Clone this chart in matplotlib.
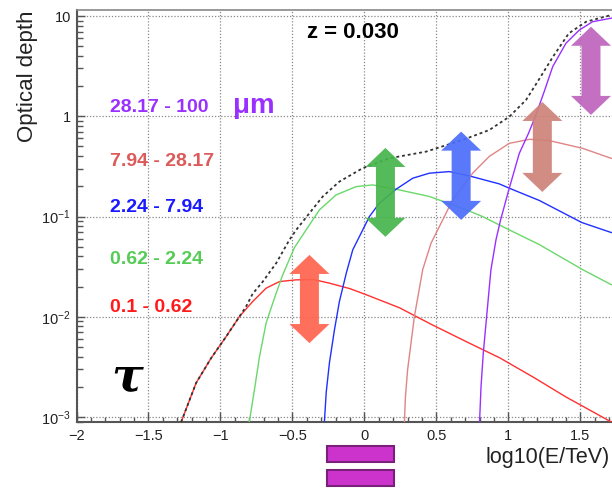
import numpy as np
import matplotlib
matplotlib.use('Agg')
import matplotlib.pyplot as plt
from matplotlib.patches import Polygon, Rectangle
from matplotlib.ticker import MultipleLocator, LogLocator, FuncFormatter, NullFormatter

plt.rcParams['font.family'] = ['Liberation Sans', 'DejaVu Sans']
plt.rcParams['mathtext.fontset'] = 'custom'
plt.rcParams['mathtext.rm'] = 'Liberation Sans'
plt.rcParams['mathtext.it'] = 'Liberation Sans:italic'
plt.rcParams['mathtext.bf'] = 'Liberation Sans:bold'

# --- datos: log10(E/TeV) y log10(tau) ---
x_red = [-1.273, -1.169, -1.065, -0.96, -0.868, -0.776, -0.683, -0.59, -0.474, -0.35,
         -0.243, -0.10, 0.012, 0.243, 0.47, 0.71, 0.94, 1.17, 1.40, 1.715]
lt_red = [-3.05, -2.66, -2.413, -2.197, -1.998, -1.848, -1.715, -1.649, -1.632, -1.63,
          -1.665, -1.72, -1.78, -1.91, -2.08, -2.25, -2.41, -2.60, -2.80, -3.05]

x_green = [-0.80, -0.764, -0.729, -0.683, -0.66, -0.613, -0.567, -0.486, -0.405, -0.3125,
           -0.197, -0.058, 0.058, 0.22, 0.451, 0.71, 0.82, 1.007, 1.215, 1.516, 1.715]
lt_green = [-3.05, -2.73, -2.40, -2.064, -1.964, -1.765, -1.58, -1.31, -1.134, -0.934,
            -0.785, -0.702, -0.685, -0.728, -0.80, -0.935, -1.00, -1.134, -1.28, -1.53, -1.68]

x_blue = [-0.278, -0.265, -0.243, -0.208, -0.174, -0.125, -0.081, 0.035, 0.104, 0.22,
          0.336, 0.451, 0.59, 0.729, 0.9375, 1.007, 1.215, 1.51, 1.715]
lt_blue = [-3.05, -2.75, -2.46, -2.13, -1.85, -1.56, -1.333, -1.0, -0.867, -0.728,
           -0.618, -0.568, -0.552, -0.595, -0.675, -0.718, -0.84, -1.06, -1.16]

x_brown = [0.278, 0.285, 0.30, 0.347, 0.405, 0.463, 0.544, 0.613, 0.752, 0.868,
           1.007, 1.146, 1.285, 1.516, 1.715]
lt_brown = [-3.05, -2.80, -2.53, -2.0, -1.53, -1.266, -1.034, -0.834, -0.568, -0.40,
            -0.27, -0.23, -0.243, -0.32, -0.42]

x_purple = [0.80, 0.81, 0.826, 0.849, 0.879, 0.914, 0.945, 1.0, 1.076, 1.14,
            1.188, 1.25, 1.308, 1.40, 1.493, 1.585, 1.72]
lt_purple = [-3.05, -2.70, -2.36, -2.0, -1.53, -1.233, -1.04, -0.75, -0.37, -0.17,
             0.0, 0.25, 0.495, 0.728, 0.86, 0.943, 0.98]

x_total = [-1.273, -1.169, -1.065, -0.96, -0.868, -0.822, -0.776, -0.706, -0.613, -0.521,
           -0.474, -0.382, -0.289, -0.174, -0.012, 0.174, 0.428, 0.683, 0.868, 1.007,
           1.123, 1.203, 1.31, 1.42, 1.54, 1.715]
lt_total = [-3.05, -2.66, -2.413, -2.197, -1.998, -1.898, -1.77, -1.65, -1.466, -1.233,
            -1.134, -0.967, -0.80, -0.652, -0.518, -0.419, -0.353, -0.236, -0.137, -0.004,
            0.163, 0.345, 0.594, 0.827, 0.943, 1.01]

bandas = ['0.1 - 0.62', '0.62 - 2.24', '2.24 - 7.94', '7.94 - 28.17', '28.17 - 100']
col_curva = ['#ff3030', '#6ad86a', '#2030ff', '#e08585', '#9a30ff']
col_texto = ['#ff1a1a', '#55cc55', '#1a1aff', '#dd5a5a', '#9a30ff']

# flechas dobles: centro en log10(E), extremos en log10(tau)
flecha_x = [-0.382, 0.146, 0.672, 1.236, 1.574]
flecha_arriba = [-1.383, -0.316, -0.153, 0.143, 0.893]
flecha_abajo = [-2.263, -1.203, -1.034, -0.755, 0.013]
col_flecha = ['#ff644e', '#46b44b', '#4b6efa', '#cd8278', '#be64be']

W, H = 612, 488
fig = plt.figure(figsize=(W / 100, H / 100), dpi=100)
ax = fig.add_axes([76.5 / W, 66 / H, 535.5 / W, 412 / H])

def fpos(px, py):
    return px / W, 1 - py / H

series = [(x_red, lt_red), (x_green, lt_green), (x_blue, lt_blue),
          (x_brown, lt_brown), (x_purple, lt_purple)]
for (xs, ls), c in zip(series, col_curva):
    ax.plot(xs, 10 ** np.array(ls), color=c, lw=1.0, zorder=3)
ax.plot(x_total, 10 ** np.array(lt_total), color='#333333', lw=1.3,
        ls=(0, (1.6, 1.6)), zorder=3)

# flechas
hw, bw, hl = 0.139, 0.066, 0.19
for cx, top, bot, c in zip(flecha_x, flecha_arriba, flecha_abajo, col_flecha):
    pts = [(cx, top), (cx + hw, top - hl), (cx + bw, top - hl), (cx + bw, bot + hl),
           (cx + hw, bot + hl), (cx, bot), (cx - hw, bot + hl), (cx - bw, bot + hl),
           (cx - bw, top - hl), (cx - hw, top - hl)]
    pts = [(p[0], 10 ** p[1]) for p in pts]
    ax.add_patch(Polygon(pts, closed=True, facecolor=c, edgecolor='none',
                         alpha=0.92, zorder=4))

ax.set_yscale('log')
ax.set_xlim(-2, 1.72)
ax.set_ylim(10 ** -3.05, 10 ** 1.06)

ax.xaxis.set_major_locator(MultipleLocator(0.5))
ax.xaxis.set_minor_locator(MultipleLocator(0.1))
ax.yaxis.set_major_locator(LogLocator(base=10, numticks=10))
ax.yaxis.set_minor_locator(LogLocator(base=10, subs=np.arange(2, 10), numticks=20))
ax.yaxis.set_minor_formatter(NullFormatter())

def fmt_y(v, pos):
    e = int(round(np.log10(v)))
    if e == 1:
        return '10'
    if e == 0:
        return '1'
    return r'$10^{%d}$' % e

ax.yaxis.set_major_formatter(FuncFormatter(fmt_y))
ax.xaxis.set_major_formatter(FuncFormatter(lambda v, p: ('%g' % v).replace('-', '\u2212')))

ax.tick_params(axis='x', which='major', direction='in', length=7, width=1.0,
               color='#555555', labelsize=10.5, pad=5, labelcolor='#222222')
ax.tick_params(axis='x', which='minor', direction='in', length=3.5, width=1.0, color='#555555')
ax.tick_params(axis='y', which='major', direction='in', length=6, width=1.0,
               color='#555555', labelsize=10.5, pad=4, labelcolor='#222222')
ax.tick_params(axis='y', which='minor', direction='in', length=4, width=1.0, color='#555555')

ax.grid(which='major', color='#888888', lw=0.9, ls=(0, (1, 1.5)))
for s in ['left', 'bottom']:
    ax.spines[s].set_color('#555555')
    ax.spines[s].set_linewidth(1.5)
ax.spines['top'].set_color('#888888')
ax.spines['top'].set_linewidth(1.2)
ax.spines['right'].set_visible(False)

# textos
fig.text(*fpos(27, 10), 'Optical depth', rotation=90, ha='center', va='top',
         fontsize=16, color='#222222')
fig.text(*fpos(610, 458), 'log10(E/TeV)', ha='right', va='center',
         fontsize=15.5, color='#222222')
fig.text(*fpos(307, 33), 'z = 0.030', ha='left', va='center', fontsize=16,
         fontweight='bold', color='black')

ypos_banda = [308, 260, 208, 162, 108]
for lab, c, yp in zip(bandas, col_texto, ypos_banda):
    fig.text(*fpos(110, yp), lab, ha='left', va='center', fontsize=14,
             fontweight='bold', color=c)
fig.text(*fpos(233, 106), '\u03bcm', ha='left', va='center', fontsize=20,
         fontweight='bold', color=col_texto[4])
fig.text(*fpos(111, 378), '\u03c4', ha='left', va='center', fontsize=34,
         family='DejaVu Serif', style='italic', fontweight='bold', color='black')

# icono "=" bajo el eje
for y0 in [446, 470]:
    x0, y1 = fpos(327, y0 + 16)
    fig.patches.append(Rectangle((x0, y1), 67 / W, 16 / H, transform=fig.transFigure,
                                 facecolor='#cc33cc', edgecolor='#7a1f7a', lw=1.5))

fig.savefig('out.png', dpi=100)
